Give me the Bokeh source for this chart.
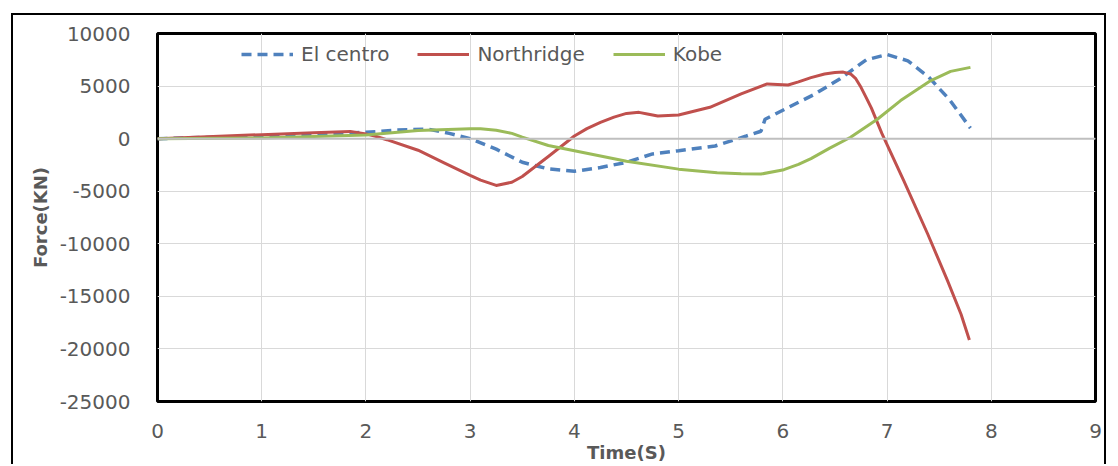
from bokeh.plotting import figure
from bokeh.models import Range1d, Span, Legend, LegendItem, FixedTicker, PrintfTickFormatter
from bokeh.embed import file_html
from bokeh.resources import INLINE

# ---- data ----
ec_t = [0, 1.0, 2.0, 2.3, 2.6, 2.8, 3.0, 3.25, 3.5, 3.75, 4.0, 4.25, 4.5, 4.75, 5.0, 5.35, 5.65, 5.79, 5.83,
        6.05, 6.3, 6.55, 6.8, 7.0, 7.2, 7.4, 7.6, 7.8]
ec_f = [0, 250, 600, 820, 900, 500, 0, -1000, -2250, -2880, -3100, -2750, -2250, -1450, -1150, -700, 250, 700, 1850,
        2950, 4200, 5700, 7500, 8000, 7400, 5850, 3700, 1000]

nr_t = [0, 1.0, 1.5, 1.85, 2.0, 2.1, 2.2, 2.5, 2.75, 3.0, 3.1, 3.25, 3.4, 3.5, 3.75, 4.0, 4.12, 4.25, 4.38, 4.5,
        4.62, 4.7, 4.8, 5.0, 5.3, 5.6, 5.85, 6.05, 6.15, 6.27, 6.4, 6.5, 6.58, 6.65, 6.7, 6.75, 6.8, 6.85, 6.95,
        7.16, 7.39, 7.58, 7.71, 7.79]
nr_f = [0, 380, 550, 690, 450, 200, -100, -1100, -2300, -3500, -3950, -4450, -4150, -3600, -1700, 250, 950, 1550,
        2050, 2400, 2500, 2350, 2150, 2250, 2980, 4250, 5200, 5100, 5400, 5800, 6150, 6300, 6330, 6150, 5700, 4880,
        3900, 2900, 500, -4000, -9070, -13500, -16700, -19150]

kb_t = [0, 1.0, 2.0, 2.5, 3.0, 3.1, 3.25, 3.4, 3.5, 3.75, 4.0, 4.5, 5.0, 5.37, 5.6, 5.79, 6.01, 6.15, 6.27, 6.45,
        6.65, 6.91, 7.13, 7.42, 7.61, 7.8]
kb_f = [0, 60, 350, 780, 950, 940, 800, 500, 150, -650, -1150, -2150, -2900, -3250, -3350, -3370, -2950, -2450,
        -1900, -900, 130, 1870, 3620, 5520, 6400, 6780]

x_ticks = [0, 1, 2, 3, 4, 5, 6, 7, 8, 9]
y_ticks = [-25000, -20000, -15000, -10000, -5000, 0, 5000, 10000]

FONT = "DejaVu Sans"
GRAY = "#595959"

p = figure(width=1095, height=451, output_backend="svg", toolbar_location=None,
           x_range=Range1d(0, 9), y_range=Range1d(-25000, 10000),
           min_border_left=144, min_border_right=13, min_border_top=18, min_border_bottom=65,
           title=None)
p.styles = {"margin-left": "11px", "margin-top": "13px",
            "border-left": "2px solid black", "border-top": "2px solid black",
            "border-right": "2px solid black"}

p.background_fill_color = "white"
p.border_fill_color = "white"
p.outline_line_color = "black"
p.outline_line_width = 3

p.xgrid.grid_line_color = "#D9D9D9"
p.ygrid.grid_line_color = "#D9D9D9"
p.xgrid.grid_line_width = 1
p.ygrid.grid_line_width = 1

p.xaxis.ticker = FixedTicker(ticks=x_ticks)
p.yaxis.ticker = FixedTicker(ticks=y_ticks)
p.yaxis.formatter = PrintfTickFormatter(format="%d")
p.xaxis.formatter = PrintfTickFormatter(format="%d")

for ax in (p.xaxis[0], p.yaxis[0]):
    ax.axis_line_color = None
    ax.major_tick_line_color = None
    ax.minor_tick_line_color = None
    ax.major_tick_in = 0
    ax.major_tick_out = 0
    ax.minor_tick_in = 0
    ax.minor_tick_out = 0
    ax.major_label_text_font = FONT
    ax.major_label_text_font_size = "20px"
    ax.major_label_text_color = GRAY
    ax.axis_label_text_font = FONT
    ax.axis_label_text_font_size = "18px"
    ax.axis_label_text_font_style = "bold"
    ax.axis_label_text_color = GRAY

p.xaxis.axis_label = "Time(S)"
p.yaxis.axis_label = "Force(KN)"
p.xaxis.major_label_standoff = 22
p.xaxis.axis_label_standoff = 1
p.yaxis.major_label_standoff = 27
p.yaxis.axis_label_standoff = 6

p.add_layout(Span(location=0, dimension="width", line_color="#BFBFBF", line_width=2))

r_ec = p.line(ec_t, ec_f, line_color="#4F81BD", line_width=3.5, line_dash="10 6")
r_nr = p.line(nr_t, nr_f, line_color="#C0504D", line_width=3, line_join="round")
r_kb = p.line(kb_t, kb_f, line_color="#9BBB59", line_width=3, line_join="round")

legend = Legend(items=[LegendItem(label="El centro", renderers=[r_ec]),
                       LegendItem(label="Northridge", renderers=[r_nr]),
                       LegendItem(label="Kobe", renderers=[r_kb])],
                orientation="horizontal", location=(84, 335),
                spacing=28, padding=0, margin=0,
                glyph_width=52, glyph_height=20, label_standoff=8,
                label_text_font=FONT, label_text_font_size="20px", label_text_color=GRAY,
                background_fill_alpha=0, border_line_color=None)
p.add_layout(legend)

open("out.html", "w").write(file_html(p, INLINE))
